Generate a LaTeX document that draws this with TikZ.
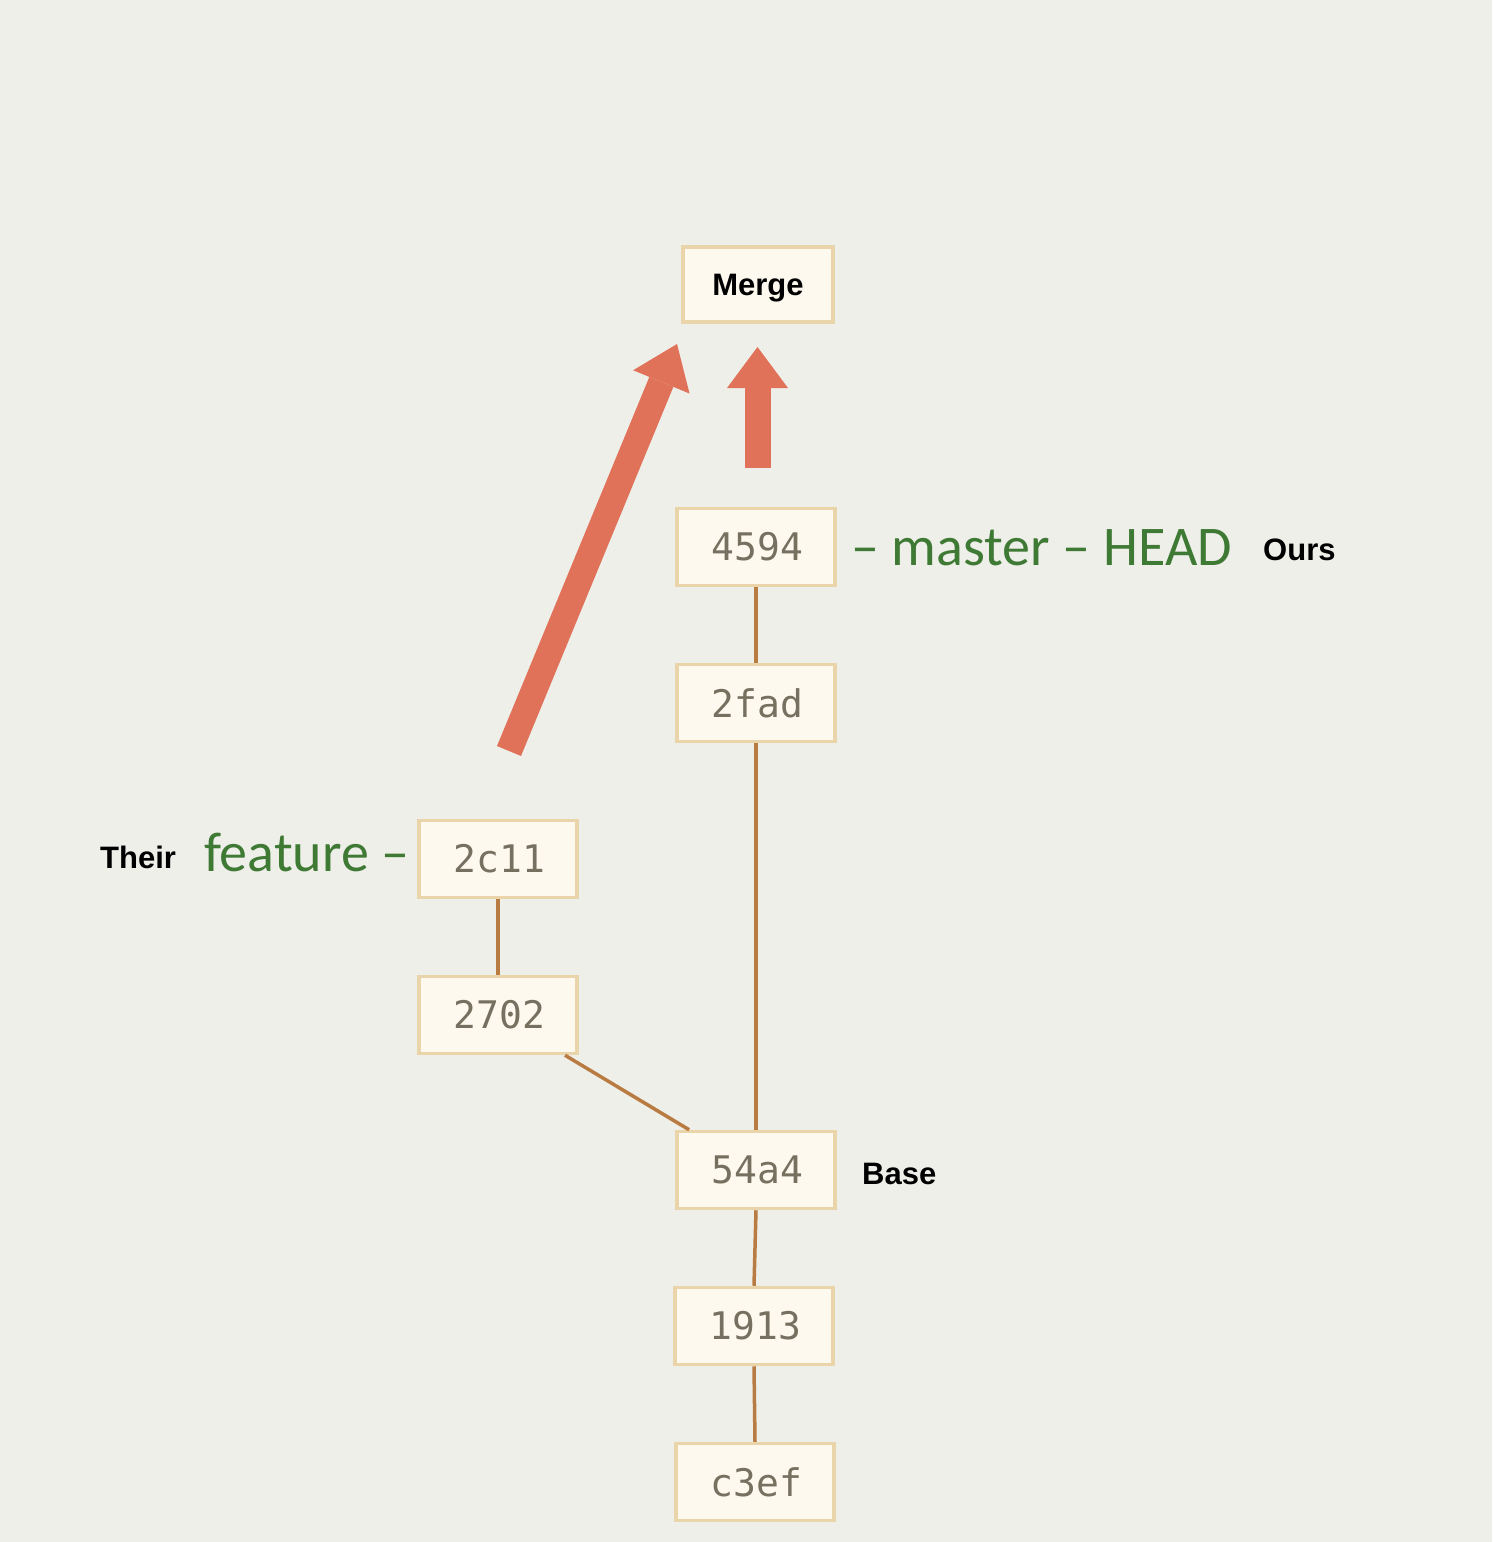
\documentclass[tikz,border=0pt]{standalone}
\usepackage{fontspec}
\setmainfont{Liberation Sans}
\newfontfamily\labfont{Carlito}
\newfontfamily\hashfont{DejaVu Sans Mono}
\usetikzlibrary{arrows.meta}
\definecolor{bgcol}{HTML}{EFEFEA}
\definecolor{boxline}{HTML}{EAD5AA}
\definecolor{boxfill}{HTML}{FDF9EE}
\definecolor{committext}{HTML}{75705F}
\definecolor{linkcol}{HTML}{B87C42}
\definecolor{arrowcol}{HTML}{E0725A}
\definecolor{refgreen}{HTML}{3F7A35}
\begin{document}
\begin{tikzpicture}[x=1pt,y=-1pt,
  commit/.style={draw=boxline, fill=boxfill, line width=3.5pt, minimum width=158pt, minimum height=77pt, inner sep=0pt, text=committext, font=\hashfont\fontsize{38}{46}\selectfont},
  mergebox/.style={commit, minimum width=150pt, minimum height=75pt, text depth=0pt, text=black, font=\bfseries\fontsize{31}{36}\selectfont},
  link/.style={draw=linkcol, line width=3.5pt},
  bigarrow/.style={draw=arrowcol, line width=26pt, -{Triangle[length=41pt,width=61pt,line width=0pt]}},
  reflabel/.style={text=refgreen, inner sep=0pt, font=\labfont\fontsize{56}{64}\selectfont},
  note/.style={text=black, inner sep=0pt, font=\bfseries\fontsize{31}{36}\selectfont}]
\useasboundingbox (0,0) rectangle (1492,1542);
\fill[bgcol] (0,0) rectangle (1492,1542);

% commits
\node[mergebox] (merge) at (758,284.5) {Merge};
\node[commit] (c4594) at (756,547) {\hspace{3pt}4594};
\node[commit] (c2fad) at (756,703) {\hspace{3pt}2fad};
\node[commit] (c2c11) at (498,859) {\hspace{3pt}2c11};
\node[commit] (c2702) at (498,1015) {\hspace{3pt}2702};
\node[commit] (c54a4) at (756,1170) {\hspace{3pt}54a4};
\node[commit] (c1913) at (754,1326) {\hspace{3pt}1913};
\node[commit] (cc3ef) at (755,1482) {\hspace{3pt}c3ef};

% links
\draw[link] (c4594.south) -- (c2fad.north);
\draw[link] (c2fad.south) -- (c54a4.north);
\draw[link] (c2c11.south) -- (c2702.north);
\draw[link] (c2702) -- (c54a4);
\draw[link] (c54a4.south) -- (c1913.north);
\draw[link] (c1913.south) -- (cc3ef.north);

% arrows
\coordinate (a1tail) at (509,751);
\coordinate (a1tip) at (677,344);
\coordinate (a2tail) at (757.5,468);
\coordinate (a2tip) at (757.5,347);
\draw[bigarrow] (a1tail) -- (a1tip);
\draw[bigarrow] (a2tail) -- (a2tip);

% labels
\node[reflabel, anchor=base west] (lmaster) at (851,565) {– master – HEAD};
\node[note, anchor=base west] (lours) at (1263,560) {Ours};
\node[note, anchor=base west] (lbase) at (862,1184) {Base};
\node[reflabel, anchor=base west] (lfeature) at (204,871) {feature –};
\node[note, anchor=base west] (ltheir) at (100,868) {Their};
\end{tikzpicture}
\end{document}
